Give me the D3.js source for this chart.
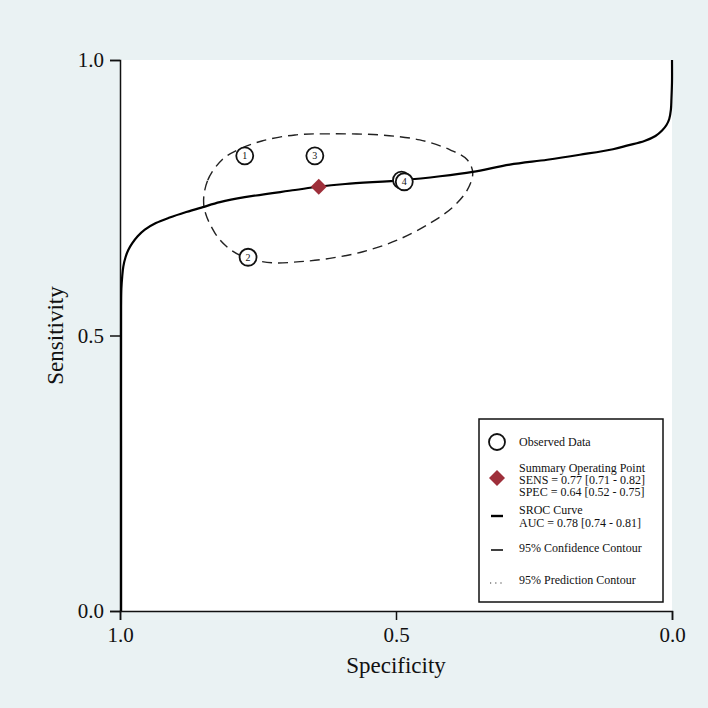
<!DOCTYPE html>
<html lang="en">
<head>
    <meta charset="UTF-8">
    <title>SROC</title>
    <script type="text/javascript" src="https://cdn.jsdelivr.net/npm/d3@7/dist/d3.min.js"></script>
    <style>
        body { margin: 0; background: #eaf2f3; }
        text { font-family: "Liberation Serif", "DejaVu Serif", serif; fill: #111; }
        .axis path, .axis line { fill: none; stroke: #111; stroke-width: 1.5; }
        .axis text { font-size: 21px; }
    </style>
</head>
<body>
<script type="text/javascript">
    // 数据
    let specTicks = [1.0, 0.5, 0.0];
    let sensTicks = [0.0, 0.5, 1.0];

    // 各研究 (编号, 特异度, 灵敏度)
    let studyIds = ['5', '4', '1', '3', '2'];
    let studySpec = [0.490, 0.485, 0.774, 0.647, 0.768];
    let studySens = [0.782, 0.779, 0.826, 0.826, 0.642];

    // 汇总点
    let summarySpec = [0.64];
    let summarySens = [0.77];

    // SROC 曲线
    let srocSpec = [0.998, 0.998, 0.998, 0.9975, 0.996, 0.994, 0.990, 0.985, 0.978, 0.968, 0.955, 0.935, 0.910, 0.880, 0.850, 0.819, 0.774, 0.683, 0.641, 0.592, 0.487, 0.420, 0.361, 0.294, 0.226, 0.167, 0.107, 0.080, 0.050, 0.030, 0.018, 0.010, 0.005, 0.002, 0.001, 0.0, 0.0];
    let srocSens = [0.0, 0.30, 0.55, 0.585, 0.607, 0.625, 0.642, 0.655, 0.667, 0.680, 0.692, 0.704, 0.714, 0.724, 0.733, 0.742, 0.751, 0.764, 0.770, 0.775, 0.782, 0.789, 0.797, 0.810, 0.819, 0.828, 0.838, 0.845, 0.853, 0.862, 0.872, 0.882, 0.893, 0.910, 0.930, 0.960, 1.0];

    // 95% 置信区域
    let confSpec = [0.848, 0.841, 0.815, 0.786, 0.743, 0.683, 0.620, 0.529, 0.457, 0.402, 0.371, 0.361, 0.371, 0.397, 0.438, 0.498, 0.560, 0.620, 0.674, 0.725, 0.774, 0.804, 0.828];
    let confSens = [0.735, 0.782, 0.819, 0.837, 0.853, 0.864, 0.866, 0.864, 0.855, 0.837, 0.819, 0.795, 0.764, 0.733, 0.704, 0.673, 0.652, 0.640, 0.634, 0.632, 0.642, 0.659, 0.686];

    // 图例
    let legendLabels = [
        ['Observed Data'],
        ['Summary Operating Point', 'SENS = 0.77 [0.71 - 0.82]', 'SPEC = 0.64 [0.52 - 0.75]'],
        ['SROC Curve', 'AUC = 0.78 [0.74 - 0.81]'],
        ['95% Confidence Contour'],
        ['95% Prediction Contour']
    ];

    let width = 708;
    let height = 708;
    let padding = {left: 120, right: 36, top: 60, bottom: 97};
    let plotW = width - padding.left - padding.right;
    let plotH = height - padding.top - padding.bottom;

    let svg = d3.select('body')
        .append('svg')
        .attr('width', width)
        .attr('height', height);

    svg.append('rect')
        .attr('width', width)
        .attr('height', height)
        .attr('fill', '#eaf2f3');

    let xScale = d3.scaleLinear().domain([1, 0]).range([0, plotW]);
    let yScale = d3.scaleLinear().domain([0, 1]).range([plotH, 0]);

    let g = svg.append('g')
        .attr('transform', 'translate(' + padding.left + ',' + padding.top + ')');

    g.append('rect')
        .attr('width', plotW)
        .attr('height', plotH)
        .attr('fill', '#fff');

    g.append('clipPath').attr('id', 'clip')
        .append('rect').attr('x', -2).attr('y', -2).attr('width', plotW + 4).attr('height', plotH + 4);

    // 坐标轴
    let xAxis = d3.axisBottom(xScale).tickValues(specTicks).tickFormat(d3.format('.1f')).tickSizeOuter(0).tickSize(9).tickPadding(7);
    let yAxis = d3.axisLeft(yScale).tickValues(sensTicks).tickFormat(d3.format('.1f')).tickSizeOuter(0).tickSize(10).tickPadding(6);

    g.append('g').attr('class', 'axis')
        .attr('transform', 'translate(0,' + plotH + ')')
        .call(xAxis);
    g.append('g').attr('class', 'axis')
        .call(yAxis);

    g.append('text')
        .attr('x', plotW / 2)
        .attr('y', plotH + 62)
        .attr('text-anchor', 'middle')
        .style('font-size', '23px')
        .text('Specificity');

    g.append('text')
        .attr('transform', 'translate(-57,' + (plotH / 2) + ') rotate(-90)')
        .attr('text-anchor', 'middle')
        .style('font-size', '23px')
        .text('Sensitivity');

    let plot = g.append('g').attr('clip-path', 'url(#clip)');

    // 置信区域
    let confLine = d3.line()
        .x(function (d, i) { return xScale(confSpec[i]); })
        .y(function (d, i) { return yScale(confSens[i]); })
        .curve(d3.curveCatmullRomClosed.alpha(0.5));
    plot.append('path')
        .attr('d', confLine(confSpec))
        .attr('fill', 'none')
        .attr('stroke', '#222')
        .attr('stroke-width', 1.4)
        .attr('stroke-dasharray', '10,6');

    // SROC 曲线
    let srocLine = d3.line()
        .x(function (d, i) { return xScale(srocSpec[i]); })
        .y(function (d, i) { return yScale(srocSens[i]); })
        .curve(d3.curveCatmullRom.alpha(0.5));
    plot.append('path')
        .attr('d', srocLine(srocSpec))
        .attr('fill', 'none')
        .attr('stroke', '#000')
        .attr('stroke-width', 2.2);

    // 各研究
    let studies = plot.selectAll('.study')
        .data(studyIds)
        .enter()
        .append('g')
        .attr('class', 'study')
        .attr('transform', function (d, i) {
            return 'translate(' + xScale(studySpec[i]) + ',' + yScale(studySens[i]) + ')';
        });
    studies.append('circle')
        .attr('r', 8.5)
        .attr('fill', '#fff')
        .attr('stroke', '#111')
        .attr('stroke-width', 1.8);
    studies.append('text')
        .attr('text-anchor', 'middle')
        .attr('dy', 3.5)
        .style('font-size', '10px')
        .text(function (d) { return d; });

    // 汇总点
    let diamond = d3.symbol().type(d3.symbolSquare).size(128);
    plot.selectAll('.summary')
        .data(summarySpec)
        .enter()
        .append('path')
        .attr('class', 'summary')
        .attr('d', diamond())
        .attr('transform', function (d, i) {
            return 'translate(' + xScale(d) + ',' + yScale(summarySens[i]) + ') rotate(45)';
        })
        .attr('fill', '#9e2f3a');

    // 图例
    let legend = svg.append('g').attr('transform', 'translate(479,419)');
    legend.append('rect')
        .attr('width', 184)
        .attr('height', 183)
        .attr('fill', '#fff')
        .attr('stroke', '#111')
        .attr('stroke-width', 1.5);

    let rowY = [23, 59, 97, 131, 164];
    let rowBase = [[27], [53, 65, 77], [95, 108], [133], [165]];

    legend.selectAll('.lt')
        .data(legendLabels)
        .enter()
        .append('g')
        .each(function (lines, i) {
            d3.select(this).selectAll('text')
                .data(lines)
                .enter()
                .append('text')
                .attr('x', 40)
                .attr('y', function (d, j) { return rowBase[i][j]; })
                .style('font-size', '12px')
                .text(function (d) { return d; });
        });

    legend.append('circle')
        .attr('cx', 18).attr('cy', rowY[0]).attr('r', 8)
        .attr('fill', '#fff').attr('stroke', '#111').attr('stroke-width', 1.8);
    legend.append('path')
        .attr('d', diamond())
        .attr('transform', 'translate(18,' + rowY[1] + ') rotate(45)')
        .attr('fill', '#9e2f3a');
    legend.append('line')
        .attr('x1', 12).attr('x2', 24).attr('y1', rowY[2]).attr('y2', rowY[2])
        .attr('stroke', '#000').attr('stroke-width', 2.4);
    legend.append('line')
        .attr('x1', 12).attr('x2', 24).attr('y1', rowY[3]).attr('y2', rowY[3])
        .attr('stroke', '#000').attr('stroke-width', 1.5);
    legend.append('line')
        .attr('x1', 11).attr('x2', 25).attr('y1', rowY[4]).attr('y2', rowY[4])
        .attr('stroke', '#333').attr('stroke-width', 1.2)
        .attr('stroke-dasharray', '1.2,4');
</script>
</body>
</html>
